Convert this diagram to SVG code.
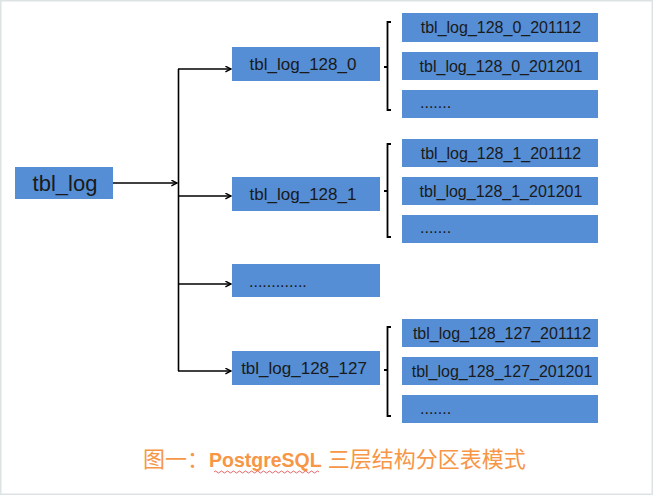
<svg xmlns="http://www.w3.org/2000/svg" width="653" height="495" viewBox="0 0 653 495">
<style>
.box{fill:#558ED5;}
.t{font-family:"Liberation Sans",Arial,sans-serif;font-size:16px;fill:#1a1a1a;}
.m{font-size:17px;}
.c{text-anchor:middle;}
.ln{stroke:#000;stroke-width:1.6;fill:none;}
.br{stroke:#000;stroke-width:1.8;fill:none;}
.cap{font-family:"Noto Sans CJK SC",sans-serif;font-size:22px;fill:#F79646;}
</style>
<defs>
<marker id="ah" viewBox="0 0 10 10" refX="9" refY="5" markerWidth="7" markerHeight="7" markerUnits="userSpaceOnUse" orient="auto">
<path d="M1,1 L9,5 L1,9" fill="none" stroke="#000" stroke-width="2"/>
</marker>
</defs>
<rect x="0.5" y="0.5" width="652" height="494" fill="#fff" stroke="#dde3e3" stroke-width="2"/>

<g id="connectors">
<line class="ln" x1="113" y1="183" x2="177" y2="183" marker-end="url(#ah)"/>
<line class="ln" x1="178.5" y1="69" x2="178.5" y2="371"/>
<line class="ln" x1="178" y1="69" x2="231" y2="69" marker-end="url(#ah)"/>
<line class="ln" x1="178" y1="196" x2="231" y2="196" marker-end="url(#ah)"/>
<line class="ln" x1="178" y1="284" x2="231" y2="284" marker-end="url(#ah)"/>
<line class="ln" x1="178" y1="371" x2="231" y2="371" marker-end="url(#ah)"/>
<path class="br" d="M391,22 H387.5 V110 H391 M387.5,67 H384"/>
<path class="br" d="M391,144 H387.5 V237 H391 M387.5,191 H384"/>
<path class="br" d="M391,327 H387.5 V416 H391 M387.5,370 H384"/>
</g>

<g id="tbl_log">
<rect class="box" x="15" y="167" width="98" height="32"/>
<text class="t c" x="65" y="191" style="font-size:22px">tbl_log</text>
</g>

<g id="tbl_log_128_0">
<rect class="box" x="232" y="47" width="148" height="34"/>
<text class="t m c" x="303" y="70">tbl_log_128_0</text>
</g>
<g id="tbl_log_128_1">
<rect class="box" x="232" y="177" width="148" height="34"/>
<text class="t m c" x="303" y="200">tbl_log_128_1</text>
</g>
<g id="mid_more">
<rect class="box" x="232" y="264" width="148" height="33"/>
<text class="t" x="249" y="287">.............</text>
</g>
<g id="tbl_log_128_127">
<rect class="box" x="232" y="351" width="148" height="34"/>
<text class="t m c" x="304" y="374">tbl_log_128_127</text>
</g>

<g id="tbl_log_128_0_201112">
<rect class="box" x="402" y="13" width="196" height="29"/>
<text class="t c" x="501" y="33">tbl_log_128_0_201112</text>
</g>
<g id="tbl_log_128_0_201201">
<rect class="box" x="402" y="52" width="196" height="28"/>
<text class="t c" x="501" y="72">tbl_log_128_0_201201</text>
</g>
<g id="g0_more">
<rect class="box" x="402" y="90" width="196" height="28"/>
<text class="t" x="420" y="108">.......</text>
</g>

<g id="tbl_log_128_1_201112">
<rect class="box" x="402" y="139" width="196" height="28"/>
<text class="t c" x="501" y="159">tbl_log_128_1_201112</text>
</g>
<g id="tbl_log_128_1_201201">
<rect class="box" x="402" y="177" width="196" height="28"/>
<text class="t c" x="501" y="197">tbl_log_128_1_201201</text>
</g>
<g id="g1_more">
<rect class="box" x="402" y="215" width="196" height="28"/>
<text class="t" x="420" y="233">.......</text>
</g>

<g id="tbl_log_128_127_201112">
<rect class="box" x="402" y="319" width="196" height="28"/>
<text class="t c" x="502" y="339">tbl_log_128_127_201112</text>
</g>
<g id="tbl_log_128_127_201201">
<rect class="box" x="402" y="357" width="196" height="28"/>
<text class="t c" x="502" y="377">tbl_log_128_127_201201</text>
</g>
<g id="g127_more">
<rect class="box" x="402" y="395" width="196" height="28"/>
<text class="t" x="420" y="414">.......</text>
</g>

<g id="caption">
<text class="cap" x="143" y="467">图一：<tspan style="font-family:'Liberation Sans',Arial,sans-serif;font-weight:bold;font-size:19.5px">PostgreSQL</tspan><tspan dx="6">三层结构分区表模式</tspan></text>
<path d="M214,472 q1.5,-2 3,0 t3,0 t3,0 t3,0 t3,0 t3,0 t3,0 t3,0 t3,0 t3,0 t3,0 t3,0 t3,0 t3,0 t3,0 t3,0 t3,0 t3,0 t3,0 t3,0 t3,0 t3,0 t3,0 t3,0 t3,0 t3,0 t3,0 t3,0 t3,0 t3,0 t3,0 t3,0 t3,0 t3,0 t3,0" fill="none" stroke="#d44" stroke-width="0.8"/>
</g>
</svg>
